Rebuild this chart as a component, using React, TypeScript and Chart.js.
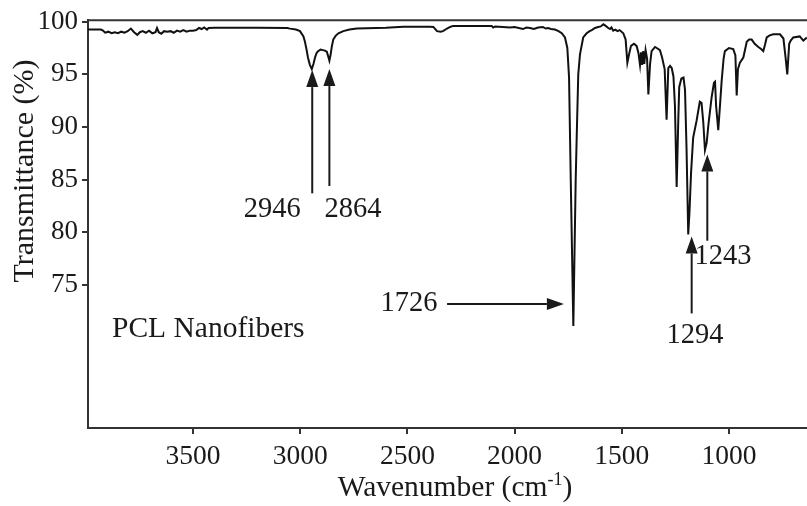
import React, { useEffect, useRef } from "react";
import { Chart, registerables } from "chart.js";

Chart.register(...registerables);

// Spectrum (wavenumber in cm-1, transmittance in %)
const wavenumbers: number[] = [
  3990, 3960, 3930, 3920, 3910, 3895, 3880, 3865, 3850, 3835, 3820, 3805, 3790, 3775, 3760, 3748, 3735, 3720, 3705, 3690,
  3675, 3668, 3660, 3648, 3635, 3620, 3605, 3590, 3575, 3560, 3545, 3530, 3515, 3500, 3485, 3472, 3460, 3448, 3435, 3428,
  3400, 3200, 3060, 3048, 3020, 3001, 2985, 2978, 2970, 2964, 2955, 2946, 2938, 2931, 2924, 2917, 2905, 2894, 2885, 2876,
  2868, 2864, 2858, 2853, 2846, 2835, 2822, 2799, 2770, 2736, 2600, 2519, 2395, 2379, 2370, 2362, 2345, 2334, 2315, 2301,
  2287, 2107, 2100, 2090, 2021, 2000, 1961, 1945, 1928, 1910, 1890, 1868, 1855, 1844, 1830, 1812, 1795, 1780, 1765, 1754,
  1746, 1738, 1726, 1715, 1710, 1703, 1695, 1680, 1664, 1650, 1640, 1625, 1610, 1598, 1586, 1575, 1563, 1555, 1548, 1540,
  1530, 1520, 1510, 1493, 1482, 1474, 1466, 1457, 1443, 1431, 1422, 1415, 1410, 1405, 1400, 1395, 1389, 1382, 1376, 1368,
  1361, 1345, 1337, 1322, 1312, 1300, 1291, 1283, 1275, 1267, 1259, 1252, 1244, 1236, 1232, 1222, 1212, 1205, 1198, 1190,
  1184, 1177, 1167, 1151, 1136, 1128, 1120, 1112, 1104, 1096, 1081, 1070, 1065, 1060, 1050, 1042, 1034, 1025, 1019, 1000,
  980, 970, 964, 958, 949, 933, 917, 906, 894, 880, 863, 850, 840, 832, 824, 810, 793, 762, 746, 736,
  728, 719, 712, 700, 670, 653, 637,
];
const transmittance: number[] = [
  99.25, 99.25, 99.25, 99.15, 98.95, 99.05, 98.9, 99.0, 98.9, 99.05, 98.95, 99.1, 99.35, 99.0, 98.75, 99.0, 99.1, 98.95, 99.15, 98.9,
  99.0, 99.4, 99.0, 98.85, 99.1, 99.05, 99.1, 98.95, 99.15, 99.05, 99.2, 99.05, 99.15, 99.15, 99.2, 99.4, 99.3, 99.45, 99.25, 99.4,
  99.42, 99.42, 99.4, 99.34, 99.25, 99.1, 98.6, 98.1, 97.3, 96.6, 95.9, 95.5, 96.0, 96.6, 97.0, 97.2, 97.35, 97.3, 97.25, 97.15,
  96.6, 96.3, 96.9, 97.6, 98.3, 98.65, 98.9, 99.1, 99.25, 99.35, 99.42, 99.52, 99.52, 99.5, 99.3, 99.1, 99.05, 99.1, 99.35, 99.5,
  99.6, 99.6, 99.45, 99.55, 99.45, 99.5, 99.3, 99.45, 99.4, 99.3, 99.45, 99.5, 99.35, 99.4, 99.3, 99.25, 99.1, 98.9, 98.5, 97.5,
  94.7, 84.9, 71.1, 85.0, 89.3, 95.0, 96.9, 98.5, 98.9, 99.1, 99.2, 99.4, 99.5, 99.55, 99.75, 99.6, 99.4, 99.3, 99.45, 99.15,
  99.25, 99.1, 99.2, 98.9, 98.3, 96.1, 96.9, 97.7, 97.9, 97.7, 97.0, 95.9, 97.1, 95.9, 97.2, 96.0, 97.3, 96.5, 93.1, 96.0,
  97.2, 97.6, 97.5, 97.3, 96.6, 95.5, 90.7, 95.6, 95.8, 95.6, 94.8, 92.0, 84.3, 91.0, 93.8, 94.6, 94.7, 93.5, 88.0, 79.8,
  82.0, 85.6, 89.0, 90.6, 92.4, 92.3, 90.5, 87.8, 88.5, 90.2, 92.8, 94.2, 94.3, 92.0, 89.7, 92.0, 94.4, 96.5, 97.2, 97.5,
  97.4, 96.8, 93.0, 95.5, 96.1, 96.6, 98.1, 98.3, 98.3, 97.9, 97.6, 97.4, 97.2, 97.8, 98.5, 98.7, 98.8, 98.8, 98.4, 96.6,
  95.0, 97.9, 98.2, 98.5, 98.6, 98.2, 98.5,
];

const xTicks: number[] = [3500, 3000, 2500, 2000, 1500, 1000];
const yTicks: number[] = [75, 80, 85, 90, 95, 100];

// Peak annotations: label, label position, arrow tail and tip (data coordinates)
const peakLabels: string[] = ["2946", "2864", "1726", "1294", "1243"];
const labelX: number[] = [3131, 2754, 2493, 1159, 1028];
const labelY: number[] = [82.2, 82.2, 73.2, 70.2, 77.7];
const arrowTailX: number[] = [2944, 2864, 2315, 1174, 1101];
const arrowTailY: number[] = [83.7, 84.4, 73.2, 72.3, 79.2];
const arrowTipX: number[] = [2944, 2864, 1770, 1174, 1101];
const arrowTipY: number[] = [95.4, 95.5, 73.2, 79.6, 87.4];

const sampleLabel = "PCL Nanofibers";
const sampleX = 3878;
const sampleY = 70.75;

const FONT = '"Liberation Serif", "Times New Roman", serif';
const INK = "#1a1a1a";

export default function App() {
  const canvasRef = useRef<HTMLCanvasElement | null>(null);

  useEffect(() => {
    const canvas = canvasRef.current;
    if (!canvas) return;

    const overlay = {
      id: "overlay",
      afterDatasetsDraw(chart: any) {
        const { ctx, chartArea, scales } = chart;
        const xs = scales.x;
        const ys = scales.y;
        ctx.save();
        // top frame line
        ctx.strokeStyle = "#333";
        ctx.lineWidth = 2;
        ctx.beginPath();
        ctx.moveTo(chartArea.left, chartArea.top);
        ctx.lineTo(chartArea.right, chartArea.top);
        ctx.stroke();

        // arrows
        ctx.strokeStyle = INK;
        ctx.fillStyle = INK;
        for (let i = 0; i < peakLabels.length; i++) {
          const x0 = xs.getPixelForValue(arrowTailX[i]);
          const y0 = ys.getPixelForValue(arrowTailY[i]);
          const x1 = xs.getPixelForValue(arrowTipX[i]);
          const y1 = ys.getPixelForValue(arrowTipY[i]);
          const ang = Math.atan2(y1 - y0, x1 - x0);
          const headLen = 17;
          const headW = 6;
          const bx = x1 - headLen * Math.cos(ang);
          const by = y1 - headLen * Math.sin(ang);
          ctx.lineWidth = 2;
          ctx.beginPath();
          ctx.moveTo(x0, y0);
          ctx.lineTo(bx, by);
          ctx.stroke();
          ctx.beginPath();
          ctx.moveTo(x1, y1);
          ctx.lineTo(bx + headW * Math.sin(ang), by - headW * Math.cos(ang));
          ctx.lineTo(bx - headW * Math.sin(ang), by + headW * Math.cos(ang));
          ctx.closePath();
          ctx.fill();

          ctx.font = `28.5px ${FONT}`;
          ctx.textAlign = "center";
          ctx.textBaseline = "middle";
          ctx.fillText(peakLabels[i], xs.getPixelForValue(labelX[i]), ys.getPixelForValue(labelY[i]));
        }

        // sample label
        ctx.font = `29.5px ${FONT}`;
        ctx.textAlign = "left";
        ctx.textBaseline = "middle";
        ctx.fillText(sampleLabel, xs.getPixelForValue(sampleX), ys.getPixelForValue(sampleY));

        // y axis title
        ctx.save();
        ctx.translate(25, 171);
        ctx.rotate(-Math.PI / 2);
        ctx.textAlign = "center";
        ctx.textBaseline = "middle";
        ctx.font = `30px ${FONT}`;
        ctx.fillText("Transmittance (%)", 0, 0);
        ctx.restore();

        // x axis title with superscript
        const main = "Wavenumber (cm";
        const sup = "-1";
        const end = ")";
        ctx.textBaseline = "alphabetic";
        ctx.textAlign = "left";
        ctx.font = `29.5px ${FONT}`;
        const wMain = ctx.measureText(main).width;
        const wEnd = ctx.measureText(end).width;
        ctx.font = `18px ${FONT}`;
        const wSup = ctx.measureText(sup).width;
        const total = wMain + wSup + wEnd;
        const cx = 455;
        let sx = cx - total / 2;
        const baseY = 496;
        ctx.font = `29.5px ${FONT}`;
        ctx.fillText(main, sx, baseY);
        sx += wMain;
        ctx.font = `18px ${FONT}`;
        ctx.fillText(sup, sx, baseY - 11);
        sx += wSup;
        ctx.font = `29.5px ${FONT}`;
        ctx.fillText(end, sx, baseY);
        ctx.restore();
      },
    };

    const chart = new Chart(canvas, {
      type: "scatter",
      data: {
        datasets: [
          {
            data: wavenumbers.map((x, i) => ({ x, y: transmittance[i] })),
            showLine: true,
            borderColor: "#111",
            borderWidth: 2,
            pointRadius: 0,
            tension: 0,
          },
        ],
      },
      options: {
        responsive: false,
        animation: false,
        layout: { padding: { top: 17, right: 0, left: 0, bottom: 0 } },
        plugins: { legend: { display: false }, tooltip: { enabled: false } },
        scales: {
          x: {
            type: "linear",
            reverse: true,
            min: 636,
            max: 3990,
            afterBuildTicks: (scale: any) => {
              scale.ticks = xTicks.map((v) => ({ value: v }));
            },
            afterFit: (scale: any) => {
              scale.height = 78;
            },
            grid: { drawOnChartArea: false, drawTicks: true, tickLength: 6, color: "#333", lineWidth: 2 },
            border: { display: true, color: "#333", width: 2 },
            ticks: {
              color: INK,
              font: { family: FONT, size: 27.5 },
              padding: 6,
              maxRotation: 0,
              autoSkip: false,
              callback: (v: any) => String(v),
            },
          },
          y: {
            type: "linear",
            min: 61.42,
            max: 100.14,
            afterBuildTicks: (scale: any) => {
              scale.ticks = yTicks.map((v) => ({ value: v }));
            },
            afterFit: (scale: any) => {
              scale.width = 88;
            },
            grid: { drawOnChartArea: false, drawTicks: true, tickLength: 6, color: "#333", lineWidth: 2 },
            border: { display: true, color: "#333", width: 2 },
            ticks: {
              color: INK,
              font: { family: FONT, size: 27 },
              padding: 4,
              autoSkip: false,
              callback: (v: any) => String(v),
            },
          },
        },
      },
      plugins: [overlay],
    });

    return () => chart.destroy();
  }, []);

  return (
    <div style={{ position: "absolute", left: 0, top: 0, width: 807, height: 506, background: "#fff" }}>
      <canvas ref={canvasRef} width={807} height={506} style={{ display: "block" }} />
    </div>
  );
}
